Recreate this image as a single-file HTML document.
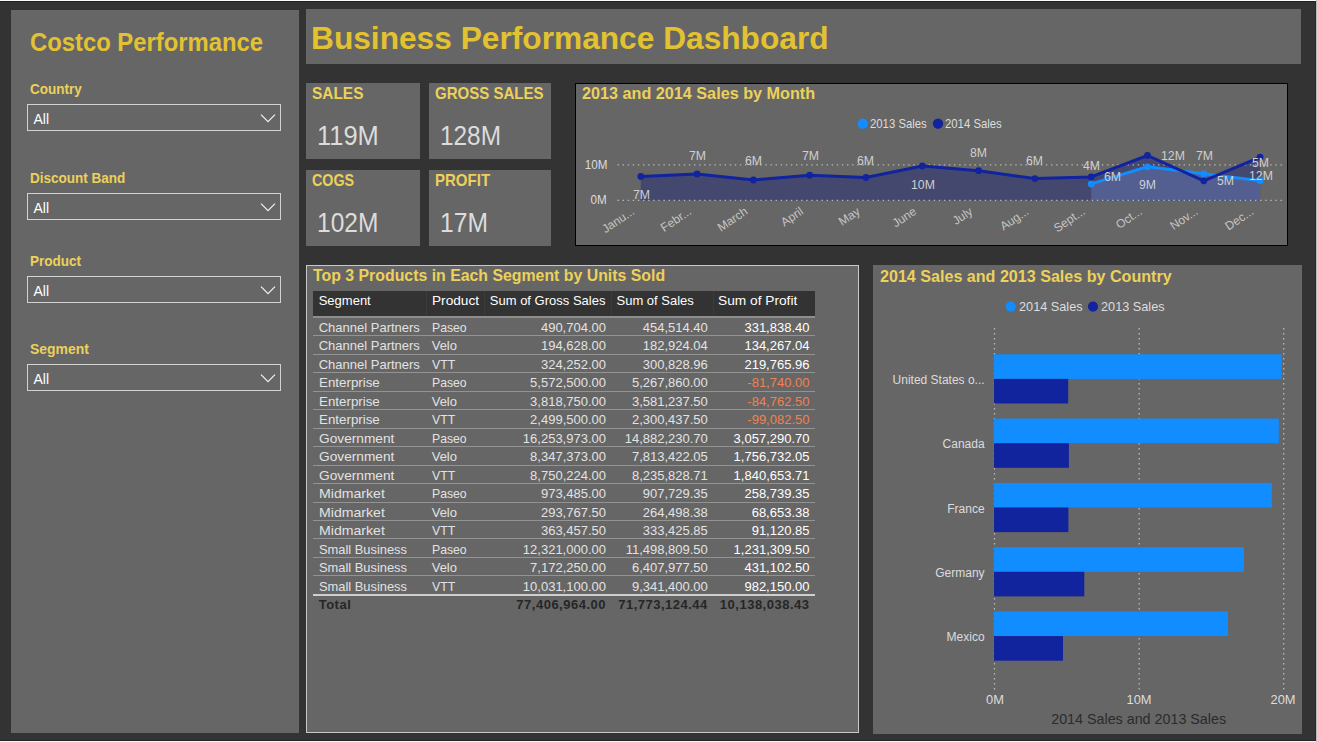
<!DOCTYPE html>
<html><head><meta charset="utf-8">
<style>
*{margin:0;padding:0;box-sizing:border-box}
html,body{width:1317px;height:742px;overflow:hidden;background:#333333;font-family:"Liberation Sans",sans-serif}
.a{position:absolute}
.t{position:absolute;white-space:nowrap;line-height:1}
svg{position:absolute;left:0;top:0}
</style></head><body>
<div class="a" style="left:0px;top:0px;width:1317px;height:1px;background:#fafafa;"></div>
<div class="a" style="left:0px;top:1px;width:1317px;height:1px;background:#202020;"></div>
<div class="a" style="left:0px;top:740px;width:1316px;height:1px;background:#262626;"></div>
<div class="a" style="left:0px;top:741px;width:1317px;height:1px;background:#f5f5f5;"></div>
<div class="a" style="left:1315px;top:1px;width:1px;height:740px;background:#2a2a2a;"></div>
<div class="a" style="left:1316px;top:0px;width:1px;height:742px;background:#bdbab6;"></div>
<div class="a" style="left:11px;top:10px;width:288px;height:723px;background:#666666;"></div>
<div class="t" style="top:30.00px;font-size:25px;color:#e3c232;font-weight:700;left:30.00px;transform:scaleX(0.953);transform-origin:left 0;">Costco Performance</div>
<div class="t" style="top:82.19px;font-size:14.3px;color:#ecd15a;font-weight:700;left:30.30px;transform:scaleX(0.945);transform-origin:left 0;">Country</div>
<div class="a" style="left:27px;top:104px;width:254px;height:27px;border:1.5px solid #d2d2d2"></div>
<div class="t" style="top:112.24px;font-size:14px;color:#ffffff;left:33.50px;">All</div>
<svg width="1317" height="742" style="pointer-events:none"><path d="M261 114.6 L268 121.6 L275 114.6" fill="none" stroke="#eeeeee" stroke-width="1.3"/></svg>
<div class="t" style="top:170.79px;font-size:14.3px;color:#ecd15a;font-weight:700;left:30.30px;transform:scaleX(0.945);transform-origin:left 0;">Discount Band</div>
<div class="a" style="left:27px;top:193px;width:254px;height:27px;border:1.5px solid #d2d2d2"></div>
<div class="t" style="top:201.24px;font-size:14px;color:#ffffff;left:33.50px;">All</div>
<svg width="1317" height="742" style="pointer-events:none"><path d="M261 203.6 L268 210.6 L275 203.6" fill="none" stroke="#eeeeee" stroke-width="1.3"/></svg>
<div class="t" style="top:254.29px;font-size:14.3px;color:#ecd15a;font-weight:700;left:30.30px;transform:scaleX(0.945);transform-origin:left 0;">Product</div>
<div class="a" style="left:27px;top:276px;width:254px;height:27px;border:1.5px solid #d2d2d2"></div>
<div class="t" style="top:284.24px;font-size:14px;color:#ffffff;left:33.50px;">All</div>
<svg width="1317" height="742" style="pointer-events:none"><path d="M261 286.6 L268 293.6 L275 286.6" fill="none" stroke="#eeeeee" stroke-width="1.3"/></svg>
<div class="t" style="top:342.29px;font-size:14.3px;color:#ecd15a;font-weight:700;left:30.30px;transform:scaleX(0.975);transform-origin:left 0;">Segment</div>
<div class="a" style="left:27px;top:364px;width:254px;height:27px;border:1.5px solid #d2d2d2"></div>
<div class="t" style="top:372.24px;font-size:14px;color:#ffffff;left:33.50px;">All</div>
<svg width="1317" height="742" style="pointer-events:none"><path d="M261 374.6 L268 381.6 L275 374.6" fill="none" stroke="#eeeeee" stroke-width="1.3"/></svg>
<div class="a" style="left:306px;top:9px;width:995px;height:55px;background:#666666;"></div>
<div class="t" style="top:22.32px;font-size:32px;color:#e3c232;font-weight:700;left:311.30px;transform:scaleX(0.99);transform-origin:left 0;">Business Performance Dashboard</div>
<div class="a" style="left:306px;top:83px;width:114px;height:76px;background:#666666;"></div>
<div class="t" style="top:85.14px;font-size:16.5px;color:#ecd15a;font-weight:700;left:311.60px;transform:scaleX(0.935);transform-origin:left 0;">SALES</div>
<div class="t" style="top:123.19px;font-size:26.8px;color:#dcdcdc;left:316.60px;transform:scaleX(0.95);transform-origin:left 0;">119M</div>
<div class="a" style="left:429px;top:83px;width:122px;height:76px;background:#666666;"></div>
<div class="t" style="top:85.14px;font-size:16.5px;color:#ecd15a;font-weight:700;left:434.60px;transform:scaleX(0.91);transform-origin:left 0;">GROSS SALES</div>
<div class="t" style="top:123.19px;font-size:26.8px;color:#dcdcdc;left:439.60px;transform:scaleX(0.91);transform-origin:left 0;">128M</div>
<div class="a" style="left:306px;top:170px;width:114px;height:76px;background:#666666;"></div>
<div class="t" style="top:172.14px;font-size:16.5px;color:#ecd15a;font-weight:700;left:311.60px;transform:scaleX(0.865);transform-origin:left 0;">COGS</div>
<div class="t" style="top:210.19px;font-size:26.8px;color:#dcdcdc;left:316.60px;transform:scaleX(0.915);transform-origin:left 0;">102M</div>
<div class="a" style="left:429px;top:170px;width:122px;height:76px;background:#666666;"></div>
<div class="t" style="top:172.14px;font-size:16.5px;color:#ecd15a;font-weight:700;left:434.60px;transform:scaleX(0.91);transform-origin:left 0;">PROFIT</div>
<div class="t" style="top:210.19px;font-size:26.8px;color:#dcdcdc;left:439.60px;transform:scaleX(0.92);transform-origin:left 0;">17M</div>
<div class="a" style="left:575px;top:83px;width:713px;height:163px;background:#666666;border:1px solid #000"></div>
<div class="t" style="top:86.46px;font-size:16px;color:#ecd15a;font-weight:700;left:582.00px;transform:scaleX(1.012);transform-origin:left 0;">2013 and 2014 Sales by Month</div>
<svg width="1317" height="742"><circle cx="862.8" cy="123.6" r="5.2" fill="#118dff"/><circle cx="938" cy="123.6" r="5.2" fill="#12239e"/></svg>
<div class="t" style="top:117.58px;font-size:12.4px;color:#dddddd;left:870.00px;transform:scaleX(0.916);transform-origin:left 0;">2013 Sales</div>
<div class="t" style="top:117.58px;font-size:12.4px;color:#dddddd;left:945.40px;transform:scaleX(0.916);transform-origin:left 0;">2014 Sales</div>
<div class="t" style="top:158.52px;font-size:12px;color:#dddddd;right:710.00px;transform:scaleX(0.97);transform-origin:right 0;">10M</div>
<div class="t" style="top:193.92px;font-size:12px;color:#dddddd;right:710.00px;transform:scaleX(0.97);transform-origin:right 0;">0M</div>
<svg width="1317" height="742"><polygon points="640.8,200.4 640.8,176.4 697.1,174.0 753.4,180.0 809.7,175.2 866.0,177.5 922.3,166.0 978.6,170.7 1034.9,178.6 1091.2,176.9 1147.5,155.5 1203.8,180.8 1260.1,157.2 1260.1,200.4" fill="#44486e"/><polygon points="1091.2,200.4 1091.2,183.9 1147.5,166.8 1203.8,173.8 1260.1,180.8 1260.1,200.4" fill="#525f90"/><line x1="617.5" y1="164.8" x2="1283" y2="164.8" stroke="#c8c8c8" stroke-width="1.3" stroke-dasharray="1.4 3.7" opacity="0.85"/><line x1="617.5" y1="200.4" x2="1283" y2="200.4" stroke="#c8c8c8" stroke-width="1.3" stroke-dasharray="1.4 3.7" opacity="0.85"/><polyline points="1091.2,183.9 1147.5,166.8 1203.8,173.8 1260.1,180.8" fill="none" stroke="#118dff" stroke-width="3" stroke-linejoin="round"/><circle cx="1091.2" cy="183.9" r="3.4" fill="#118dff"/><circle cx="1147.5" cy="166.8" r="3.4" fill="#118dff"/><circle cx="1203.8" cy="173.8" r="3.4" fill="#118dff"/><circle cx="1260.1" cy="180.8" r="3.4" fill="#118dff"/><polyline points="640.8,176.4 697.1,174.0 753.4,180.0 809.7,175.2 866.0,177.5 922.3,166.0 978.6,170.7 1034.9,178.6 1091.2,176.9 1147.5,155.5 1203.8,180.8 1260.1,157.2" fill="none" stroke="#12239e" stroke-width="3" stroke-linejoin="round"/><circle cx="640.8" cy="176.4" r="3.4" fill="#12239e"/><circle cx="697.1" cy="174.0" r="3.4" fill="#12239e"/><circle cx="753.4" cy="180.0" r="3.4" fill="#12239e"/><circle cx="809.7" cy="175.2" r="3.4" fill="#12239e"/><circle cx="866.0" cy="177.5" r="3.4" fill="#12239e"/><circle cx="922.3" cy="166.0" r="3.4" fill="#12239e"/><circle cx="978.6" cy="170.7" r="3.4" fill="#12239e"/><circle cx="1034.9" cy="178.6" r="3.4" fill="#12239e"/><circle cx="1091.2" cy="176.9" r="3.4" fill="#12239e"/><circle cx="1147.5" cy="155.5" r="3.4" fill="#12239e"/><circle cx="1203.8" cy="180.8" r="3.4" fill="#12239e"/><circle cx="1260.1" cy="157.2" r="3.4" fill="#12239e"/></svg>
<div class="t" style="top:188.90px;font-size:12.5px;color:#cfcfcf;left:632.60px;transform:scaleX(0.98);transform-origin:left 0;">7M</div>
<div class="t" style="top:149.50px;font-size:12.5px;color:#cfcfcf;left:689.00px;transform:scaleX(0.98);transform-origin:left 0;">7M</div>
<div class="t" style="top:155.20px;font-size:12.5px;color:#cfcfcf;left:744.80px;transform:scaleX(0.98);transform-origin:left 0;">6M</div>
<div class="t" style="top:150.40px;font-size:12.5px;color:#cfcfcf;left:801.80px;transform:scaleX(0.98);transform-origin:left 0;">7M</div>
<div class="t" style="top:155.20px;font-size:12.5px;color:#cfcfcf;left:857.40px;transform:scaleX(0.98);transform-origin:left 0;">6M</div>
<div class="t" style="top:178.50px;font-size:12.5px;color:#cfcfcf;left:911.40px;transform:scaleX(0.98);transform-origin:left 0;">10M</div>
<div class="t" style="top:147.00px;font-size:12.5px;color:#cfcfcf;left:970.20px;transform:scaleX(0.98);transform-origin:left 0;">8M</div>
<div class="t" style="top:155.20px;font-size:12.5px;color:#cfcfcf;left:1026.40px;transform:scaleX(0.98);transform-origin:left 0;">6M</div>
<div class="t" style="top:160.20px;font-size:12.5px;color:#cfcfcf;left:1082.60px;transform:scaleX(0.98);transform-origin:left 0;">4M</div>
<div class="t" style="top:170.90px;font-size:12.5px;color:#cfcfcf;left:1104.20px;transform:scaleX(0.98);transform-origin:left 0;">6M</div>
<div class="t" style="top:149.50px;font-size:12.5px;color:#cfcfcf;left:1161.00px;transform:scaleX(0.98);transform-origin:left 0;">12M</div>
<div class="t" style="top:178.50px;font-size:12.5px;color:#cfcfcf;left:1139.30px;transform:scaleX(0.98);transform-origin:left 0;">9M</div>
<div class="t" style="top:149.50px;font-size:12.5px;color:#cfcfcf;left:1195.50px;transform:scaleX(0.98);transform-origin:left 0;">7M</div>
<div class="t" style="top:174.80px;font-size:12.5px;color:#cfcfcf;left:1216.60px;transform:scaleX(0.98);transform-origin:left 0;">5M</div>
<div class="t" style="top:156.90px;font-size:12.5px;color:#cfcfcf;left:1251.70px;transform:scaleX(0.98);transform-origin:left 0;">5M</div>
<div class="t" style="top:170.10px;font-size:12.5px;color:#cfcfcf;left:1248.90px;transform:scaleX(0.98);transform-origin:left 0;">12M</div>
<div class="t" style="right:683.5px;top:203.6px;font-size:12px;color:#c4c4c4;line-height:12px;transform:rotate(-34deg);transform-origin:right center">Janu...</div>
<div class="t" style="right:627.2px;top:203.6px;font-size:12px;color:#c4c4c4;line-height:12px;transform:rotate(-34deg);transform-origin:right center">Febr...</div>
<div class="t" style="right:570.9px;top:203.6px;font-size:12px;color:#c4c4c4;line-height:12px;transform:rotate(-34deg);transform-origin:right center">March</div>
<div class="t" style="right:514.6px;top:203.6px;font-size:12px;color:#c4c4c4;line-height:12px;transform:rotate(-34deg);transform-origin:right center">April</div>
<div class="t" style="right:458.3px;top:203.6px;font-size:12px;color:#c4c4c4;line-height:12px;transform:rotate(-34deg);transform-origin:right center">May</div>
<div class="t" style="right:402.0px;top:203.6px;font-size:12px;color:#c4c4c4;line-height:12px;transform:rotate(-34deg);transform-origin:right center">June</div>
<div class="t" style="right:345.7px;top:203.6px;font-size:12px;color:#c4c4c4;line-height:12px;transform:rotate(-34deg);transform-origin:right center">July</div>
<div class="t" style="right:289.4px;top:203.6px;font-size:12px;color:#c4c4c4;line-height:12px;transform:rotate(-34deg);transform-origin:right center">Aug...</div>
<div class="t" style="right:233.1px;top:203.6px;font-size:12px;color:#c4c4c4;line-height:12px;transform:rotate(-34deg);transform-origin:right center">Sept...</div>
<div class="t" style="right:176.8px;top:203.6px;font-size:12px;color:#c4c4c4;line-height:12px;transform:rotate(-34deg);transform-origin:right center">Oct...</div>
<div class="t" style="right:120.5px;top:203.6px;font-size:12px;color:#c4c4c4;line-height:12px;transform:rotate(-34deg);transform-origin:right center">Nov...</div>
<div class="t" style="right:64.2px;top:203.6px;font-size:12px;color:#c4c4c4;line-height:12px;transform:rotate(-34deg);transform-origin:right center">Dec...</div>
<div class="a" style="left:306px;top:265px;width:553px;height:468px;background:#666666;border:1px solid #c8c8c8"></div>
<div class="t" style="top:268.46px;font-size:16px;color:#ecd15a;font-weight:700;left:313.20px;transform:scaleX(0.991);transform-origin:left 0;">Top 3 Products in Each Segment by Units Sold</div>
<div class="a" style="left:313px;top:291px;width:502px;height:25px;background:#333333;"></div>
<div class="a" style="left:426px;top:291px;width:1px;height:25px;background:#3c3c3c;"></div>
<div class="a" style="left:484px;top:291px;width:1px;height:25px;background:#3c3c3c;"></div>
<div class="a" style="left:611px;top:291px;width:1px;height:25px;background:#3c3c3c;"></div>
<div class="a" style="left:713px;top:291px;width:1px;height:25px;background:#3c3c3c;"></div>
<div class="a" style="left:313px;top:316px;width:502px;height:1.5px;background:#8e8e8e;"></div>
<div class="t" style="top:293.88px;font-size:13px;color:#ffffff;left:318.70px;">Segment</div>
<div class="t" style="top:293.88px;font-size:13px;color:#ffffff;left:431.70px;transform:scaleX(1.05);transform-origin:left 0;">Product</div>
<div class="t" style="top:293.88px;font-size:13px;color:#ffffff;left:489.80px;">Sum of Gross Sales</div>
<div class="t" style="top:293.88px;font-size:13px;color:#ffffff;left:616.50px;">Sum of Sales</div>
<div class="t" style="top:293.88px;font-size:13px;color:#ffffff;left:718.40px;transform:scaleX(1.055);transform-origin:left 0;">Sum of Profit</div>
<div class="t" style="top:320.68px;font-size:13px;color:#e2e2e2;left:318.70px;">Channel Partners</div>
<div class="t" style="top:320.68px;font-size:13px;color:#e2e2e2;left:431.70px;transform:scaleX(0.94);transform-origin:left 0;">Paseo</div>
<div class="t" style="top:320.68px;font-size:13px;color:#e2e2e2;right:711.00px;">490,704.00</div>
<div class="t" style="top:320.68px;font-size:13px;color:#e2e2e2;right:609.20px;">454,514.40</div>
<div class="t" style="top:320.68px;font-size:13px;color:#ffffff;right:507.50px;">331,838.40</div>
<div class="a" style="left:313px;top:335.10px;width:502px;height:1px;background:#939393"></div>
<div class="t" style="top:339.17px;font-size:13px;color:#e2e2e2;left:318.70px;">Channel Partners</div>
<div class="t" style="top:339.17px;font-size:13px;color:#e2e2e2;left:431.70px;">Velo</div>
<div class="t" style="top:339.17px;font-size:13px;color:#e2e2e2;right:711.00px;">194,628.00</div>
<div class="t" style="top:339.17px;font-size:13px;color:#e2e2e2;right:609.20px;">182,924.04</div>
<div class="t" style="top:339.17px;font-size:13px;color:#ffffff;right:507.50px;">134,267.04</div>
<div class="a" style="left:313px;top:353.59px;width:502px;height:1px;background:#939393"></div>
<div class="t" style="top:357.66px;font-size:13px;color:#e2e2e2;left:318.70px;">Channel Partners</div>
<div class="t" style="top:357.66px;font-size:13px;color:#e2e2e2;left:431.70px;transform:scaleX(0.95);transform-origin:left 0;">VTT</div>
<div class="t" style="top:357.66px;font-size:13px;color:#e2e2e2;right:711.00px;">324,252.00</div>
<div class="t" style="top:357.66px;font-size:13px;color:#e2e2e2;right:609.20px;">300,828.96</div>
<div class="t" style="top:357.66px;font-size:13px;color:#ffffff;right:507.50px;">219,765.96</div>
<div class="a" style="left:313px;top:372.08px;width:502px;height:1px;background:#939393"></div>
<div class="t" style="top:376.15px;font-size:13px;color:#e2e2e2;left:318.70px;transform:scaleX(1.026);transform-origin:left 0;">Enterprise</div>
<div class="t" style="top:376.15px;font-size:13px;color:#e2e2e2;left:431.70px;transform:scaleX(0.94);transform-origin:left 0;">Paseo</div>
<div class="t" style="top:376.15px;font-size:13px;color:#e2e2e2;right:711.00px;">5,572,500.00</div>
<div class="t" style="top:376.15px;font-size:13px;color:#e2e2e2;right:609.20px;">5,267,860.00</div>
<div class="t" style="top:376.15px;font-size:13px;color:#f2814f;right:507.50px;">-81,740.00</div>
<div class="a" style="left:313px;top:390.57px;width:502px;height:1px;background:#939393"></div>
<div class="t" style="top:394.64px;font-size:13px;color:#e2e2e2;left:318.70px;transform:scaleX(1.026);transform-origin:left 0;">Enterprise</div>
<div class="t" style="top:394.64px;font-size:13px;color:#e2e2e2;left:431.70px;">Velo</div>
<div class="t" style="top:394.64px;font-size:13px;color:#e2e2e2;right:711.00px;">3,818,750.00</div>
<div class="t" style="top:394.64px;font-size:13px;color:#e2e2e2;right:609.20px;">3,581,237.50</div>
<div class="t" style="top:394.64px;font-size:13px;color:#f2814f;right:507.50px;">-84,762.50</div>
<div class="a" style="left:313px;top:409.06px;width:502px;height:1px;background:#939393"></div>
<div class="t" style="top:413.13px;font-size:13px;color:#e2e2e2;left:318.70px;transform:scaleX(1.026);transform-origin:left 0;">Enterprise</div>
<div class="t" style="top:413.13px;font-size:13px;color:#e2e2e2;left:431.70px;transform:scaleX(0.95);transform-origin:left 0;">VTT</div>
<div class="t" style="top:413.13px;font-size:13px;color:#e2e2e2;right:711.00px;">2,499,500.00</div>
<div class="t" style="top:413.13px;font-size:13px;color:#e2e2e2;right:609.20px;">2,300,437.50</div>
<div class="t" style="top:413.13px;font-size:13px;color:#f2814f;right:507.50px;">-99,082.50</div>
<div class="a" style="left:313px;top:427.55px;width:502px;height:1px;background:#939393"></div>
<div class="t" style="top:431.62px;font-size:13px;color:#e2e2e2;left:318.70px;transform:scaleX(1.054);transform-origin:left 0;">Government</div>
<div class="t" style="top:431.62px;font-size:13px;color:#e2e2e2;left:431.70px;transform:scaleX(0.94);transform-origin:left 0;">Paseo</div>
<div class="t" style="top:431.62px;font-size:13px;color:#e2e2e2;right:711.00px;">16,253,973.00</div>
<div class="t" style="top:431.62px;font-size:13px;color:#e2e2e2;right:609.20px;">14,882,230.70</div>
<div class="t" style="top:431.62px;font-size:13px;color:#ffffff;right:507.50px;">3,057,290.70</div>
<div class="a" style="left:313px;top:446.04px;width:502px;height:1px;background:#939393"></div>
<div class="t" style="top:450.11px;font-size:13px;color:#e2e2e2;left:318.70px;transform:scaleX(1.054);transform-origin:left 0;">Government</div>
<div class="t" style="top:450.11px;font-size:13px;color:#e2e2e2;left:431.70px;">Velo</div>
<div class="t" style="top:450.11px;font-size:13px;color:#e2e2e2;right:711.00px;">8,347,373.00</div>
<div class="t" style="top:450.11px;font-size:13px;color:#e2e2e2;right:609.20px;">7,813,422.05</div>
<div class="t" style="top:450.11px;font-size:13px;color:#ffffff;right:507.50px;">1,756,732.05</div>
<div class="a" style="left:313px;top:464.53px;width:502px;height:1px;background:#939393"></div>
<div class="t" style="top:468.60px;font-size:13px;color:#e2e2e2;left:318.70px;transform:scaleX(1.054);transform-origin:left 0;">Government</div>
<div class="t" style="top:468.60px;font-size:13px;color:#e2e2e2;left:431.70px;transform:scaleX(0.95);transform-origin:left 0;">VTT</div>
<div class="t" style="top:468.60px;font-size:13px;color:#e2e2e2;right:711.00px;">8,750,224.00</div>
<div class="t" style="top:468.60px;font-size:13px;color:#e2e2e2;right:609.20px;">8,235,828.71</div>
<div class="t" style="top:468.60px;font-size:13px;color:#ffffff;right:507.50px;">1,840,653.71</div>
<div class="a" style="left:313px;top:483.02px;width:502px;height:1px;background:#939393"></div>
<div class="t" style="top:487.09px;font-size:13px;color:#e2e2e2;left:318.70px;transform:scaleX(1.085);transform-origin:left 0;">Midmarket</div>
<div class="t" style="top:487.09px;font-size:13px;color:#e2e2e2;left:431.70px;transform:scaleX(0.94);transform-origin:left 0;">Paseo</div>
<div class="t" style="top:487.09px;font-size:13px;color:#e2e2e2;right:711.00px;">973,485.00</div>
<div class="t" style="top:487.09px;font-size:13px;color:#e2e2e2;right:609.20px;">907,729.35</div>
<div class="t" style="top:487.09px;font-size:13px;color:#ffffff;right:507.50px;">258,739.35</div>
<div class="a" style="left:313px;top:501.51px;width:502px;height:1px;background:#939393"></div>
<div class="t" style="top:505.58px;font-size:13px;color:#e2e2e2;left:318.70px;transform:scaleX(1.085);transform-origin:left 0;">Midmarket</div>
<div class="t" style="top:505.58px;font-size:13px;color:#e2e2e2;left:431.70px;">Velo</div>
<div class="t" style="top:505.58px;font-size:13px;color:#e2e2e2;right:711.00px;">293,767.50</div>
<div class="t" style="top:505.58px;font-size:13px;color:#e2e2e2;right:609.20px;">264,498.38</div>
<div class="t" style="top:505.58px;font-size:13px;color:#ffffff;right:507.50px;">68,653.38</div>
<div class="a" style="left:313px;top:520.00px;width:502px;height:1px;background:#939393"></div>
<div class="t" style="top:524.07px;font-size:13px;color:#e2e2e2;left:318.70px;transform:scaleX(1.085);transform-origin:left 0;">Midmarket</div>
<div class="t" style="top:524.07px;font-size:13px;color:#e2e2e2;left:431.70px;transform:scaleX(0.95);transform-origin:left 0;">VTT</div>
<div class="t" style="top:524.07px;font-size:13px;color:#e2e2e2;right:711.00px;">363,457.50</div>
<div class="t" style="top:524.07px;font-size:13px;color:#e2e2e2;right:609.20px;">333,425.85</div>
<div class="t" style="top:524.07px;font-size:13px;color:#ffffff;right:507.50px;">91,120.85</div>
<div class="a" style="left:313px;top:538.49px;width:502px;height:1px;background:#939393"></div>
<div class="t" style="top:542.56px;font-size:13px;color:#e2e2e2;left:318.70px;transform:scaleX(0.99);transform-origin:left 0;">Small Business</div>
<div class="t" style="top:542.56px;font-size:13px;color:#e2e2e2;left:431.70px;transform:scaleX(0.94);transform-origin:left 0;">Paseo</div>
<div class="t" style="top:542.56px;font-size:13px;color:#e2e2e2;right:711.00px;">12,321,000.00</div>
<div class="t" style="top:542.56px;font-size:13px;color:#e2e2e2;right:609.20px;">11,498,809.50</div>
<div class="t" style="top:542.56px;font-size:13px;color:#ffffff;right:507.50px;">1,231,309.50</div>
<div class="a" style="left:313px;top:556.98px;width:502px;height:1px;background:#939393"></div>
<div class="t" style="top:561.05px;font-size:13px;color:#e2e2e2;left:318.70px;transform:scaleX(0.99);transform-origin:left 0;">Small Business</div>
<div class="t" style="top:561.05px;font-size:13px;color:#e2e2e2;left:431.70px;">Velo</div>
<div class="t" style="top:561.05px;font-size:13px;color:#e2e2e2;right:711.00px;">7,172,250.00</div>
<div class="t" style="top:561.05px;font-size:13px;color:#e2e2e2;right:609.20px;">6,407,977.50</div>
<div class="t" style="top:561.05px;font-size:13px;color:#ffffff;right:507.50px;">431,102.50</div>
<div class="a" style="left:313px;top:575.47px;width:502px;height:1px;background:#939393"></div>
<div class="t" style="top:579.54px;font-size:13px;color:#e2e2e2;left:318.70px;transform:scaleX(0.99);transform-origin:left 0;">Small Business</div>
<div class="t" style="top:579.54px;font-size:13px;color:#e2e2e2;left:431.70px;transform:scaleX(0.95);transform-origin:left 0;">VTT</div>
<div class="t" style="top:579.54px;font-size:13px;color:#e2e2e2;right:711.00px;">10,031,100.00</div>
<div class="t" style="top:579.54px;font-size:13px;color:#e2e2e2;right:609.20px;">9,341,400.00</div>
<div class="t" style="top:579.54px;font-size:13px;color:#ffffff;right:507.50px;">982,150.00</div>
<div class="a" style="left:313px;top:594.46px;width:502px;height:1.5px;background:#cfcfcf"></div>
<div class="t" style="top:597.78px;font-size:13px;color:#262626;font-weight:700;letter-spacing:0.5px;left:318.70px;">Total</div>
<div class="t" style="top:597.78px;font-size:13px;color:#262626;font-weight:700;letter-spacing:0.5px;right:711.00px;">77,406,964.00</div>
<div class="t" style="top:597.78px;font-size:13px;color:#262626;font-weight:700;letter-spacing:0.5px;right:609.20px;">71,773,124.44</div>
<div class="t" style="top:597.78px;font-size:13px;color:#262626;font-weight:700;letter-spacing:0.5px;right:507.50px;">10,138,038.43</div>
<div class="a" style="left:873px;top:265px;width:429px;height:469px;background:#666666;"></div>
<div class="t" style="top:269.36px;font-size:16px;color:#ecd15a;font-weight:700;left:880.00px;transform:scaleX(1.006);transform-origin:left 0;">2014 Sales and 2013 Sales by Country</div>
<svg width="1317" height="742"><circle cx="1010.8" cy="306.6" r="5.1" fill="#118dff"/><circle cx="1093" cy="306.6" r="5.1" fill="#12239e"/></svg>
<div class="t" style="top:300.00px;font-size:13.1px;color:#dddddd;left:1018.50px;transform:scaleX(0.97);transform-origin:left 0;">2014 Sales</div>
<div class="t" style="top:300.00px;font-size:13.1px;color:#dddddd;left:1101.30px;transform:scaleX(0.97);transform-origin:left 0;">2013 Sales</div>
<svg width="1317" height="742"><line x1="994.5" y1="328" x2="994.5" y2="690" stroke="#c8c8c8" stroke-width="1.3" stroke-dasharray="1.5 3.5" opacity="0.85"/><line x1="1139.2" y1="328" x2="1139.2" y2="690" stroke="#c8c8c8" stroke-width="1.3" stroke-dasharray="1.5 3.5" opacity="0.85"/><line x1="1283.7" y1="328" x2="1283.7" y2="690" stroke="#c8c8c8" stroke-width="1.3" stroke-dasharray="1.5 3.5" opacity="0.85"/><rect x="994" y="354.30" width="287.60" height="24.6" fill="#118dff"/><rect x="994" y="378.90" width="74.20" height="24.6" fill="#12239e"/><rect x="994" y="418.60" width="284.80" height="24.6" fill="#118dff"/><rect x="994" y="443.20" width="74.90" height="24.6" fill="#12239e"/><rect x="994" y="482.90" width="277.80" height="24.6" fill="#118dff"/><rect x="994" y="507.50" width="74.40" height="24.6" fill="#12239e"/><rect x="994" y="547.20" width="250.00" height="24.6" fill="#118dff"/><rect x="994" y="571.80" width="90.30" height="24.6" fill="#12239e"/><rect x="994" y="611.50" width="234.00" height="24.6" fill="#118dff"/><rect x="994" y="636.10" width="69.00" height="24.6" fill="#12239e"/></svg>
<div class="t" style="top:373.92px;font-size:12px;color:#dcdcdc;right:332.40px;">United States o...</div>
<div class="t" style="top:438.22px;font-size:12px;color:#dcdcdc;right:332.40px;">Canada</div>
<div class="t" style="top:502.52px;font-size:12px;color:#dcdcdc;right:332.40px;">France</div>
<div class="t" style="top:566.82px;font-size:12px;color:#dcdcdc;right:332.40px;">Germany</div>
<div class="t" style="top:631.12px;font-size:12px;color:#dcdcdc;right:332.40px;">Mexico</div>
<div class="t" style="top:693.62px;font-size:12px;color:#dddddd;left:994.50px;transform:translateX(-50%) scaleX(1.07);transform-origin:center 0;">0M</div>
<div class="t" style="top:693.62px;font-size:12px;color:#dddddd;left:1139.40px;transform:translateX(-50%) scaleX(1.07);transform-origin:center 0;">10M</div>
<div class="t" style="top:693.62px;font-size:12px;color:#dddddd;left:1283.30px;transform:translateX(-50%) scaleX(1.07);transform-origin:center 0;">20M</div>
<div class="t" style="top:711.89px;font-size:14.3px;color:#2b2b2b;left:1051.20px;">2014 Sales and 2013 Sales</div>
</body></html>
